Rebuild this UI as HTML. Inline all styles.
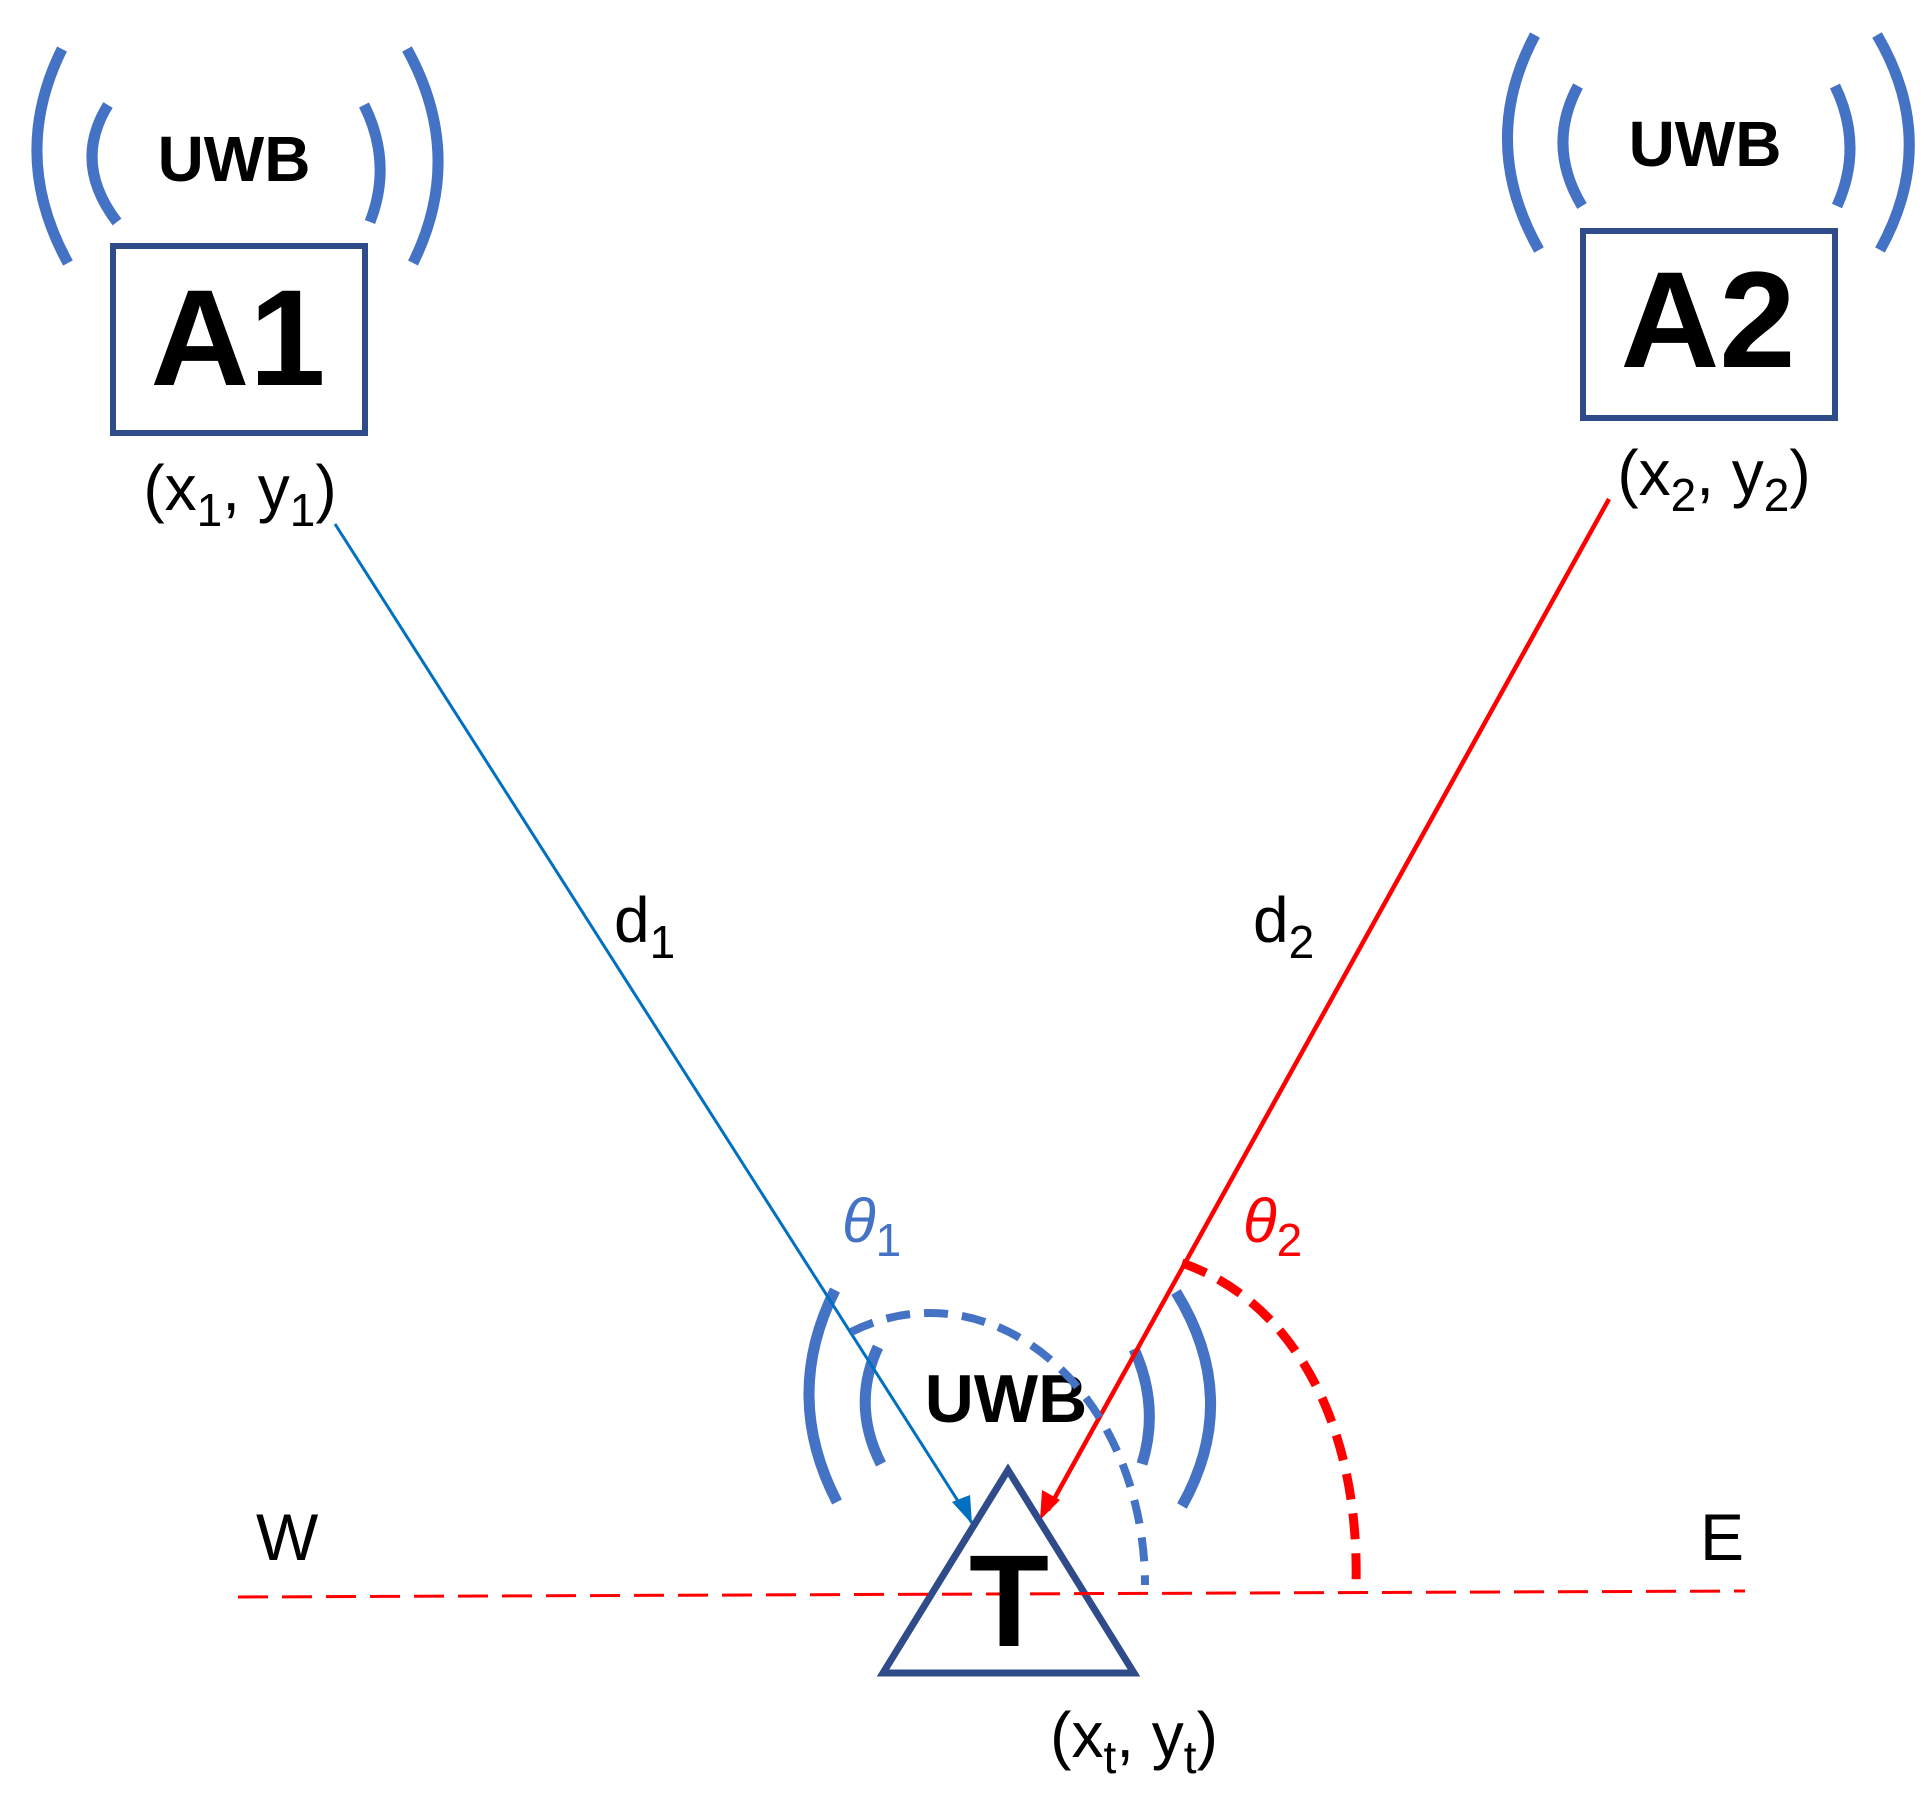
<!DOCTYPE html>
<html><head><meta charset="utf-8"><style>
html,body{margin:0;padding:0;background:#fff;}
svg{display:block;}
text{font-family:"Liberation Sans",sans-serif;}
</style></head><body>
<svg width="1928" height="1804" viewBox="0 0 1928 1804" xmlns="http://www.w3.org/2000/svg">
<g fill="none" stroke="#4472C4" stroke-width="11">
<path d="M62,49 Q9,156 68,263"/>
<path d="M108,105 Q72,163 117,222"/>
<path d="M364,105 Q393,163 370,222"/>
<path d="M407,49 Q466,156 413,263"/>
<path d="M1535,35 Q1478,142 1539,250"/>
<path d="M1578,86 Q1546,146 1582,206"/>
<path d="M1835,86 Q1864,146 1837,206"/>
<path d="M1877,35 Q1940,142 1880,250"/>
<path d="M835,1290 Q782,1396 837,1502"/>
<path d="M878,1347 Q851,1405 881,1464"/>
<path d="M1134,1349 Q1160,1406 1142,1464"/>
<path d="M1176,1292 Q1242,1399 1182,1506"/>
</g>
<rect x="113" y="246" width="252" height="187" fill="none" stroke="#2F4B8A" stroke-width="6"/>
<rect x="1583" y="231" width="252" height="187" fill="none" stroke="#2F4B8A" stroke-width="6"/>
<g font-weight="bold" text-anchor="middle" fill="#000">
<text x="234" y="181" font-size="64">UWB</text>
<text x="1705" y="166" font-size="64">UWB</text>
<text x="1006" y="1422" font-size="68">UWB</text>
<text x="238" y="385" font-size="137">A1</text>
<text x="1708" y="367" font-size="137">A2</text>
</g>
<line x1="335" y1="524" x2="972" y2="1523" stroke="#0070C0" stroke-width="3" />
<path d="M972,1524 L952,1502 L970,1495 Z" fill="#0070C0"/>
<line x1="1609" y1="499" x2="1048" y2="1510" stroke="#FF0000" stroke-width="4.5"/>
<path d="M1040,1520 L1042,1490 L1060,1500 Z" fill="#FF0000"/>
<path d="M851,1332 A215,272 0 0 1 1145,1585" fill="none" stroke="#4472C4" stroke-width="8" stroke-dasharray="24,14"/>
<path d="M1182,1263 C1290,1300 1360,1420 1356,1585" fill="none" stroke="#FF0000" stroke-width="9" stroke-dasharray="26,14"/>
<path d="M1008,1470 L883,1673 L1134,1673 Z" fill="none" stroke="#2F4B8A" stroke-width="7" stroke-linejoin="miter"/>
<line x1="238" y1="1597" x2="1745" y2="1591" stroke="#FF0000" stroke-width="3" stroke-dasharray="30,14"/>
<text x="1009" y="1646" font-size="131" font-weight="bold" text-anchor="middle">T</text>
<g font-size="64" fill="#000">
<text x="240" y="510" text-anchor="middle">(x<tspan font-size="46" dy="16">1</tspan><tspan dy="-16">, y</tspan><tspan font-size="46" dy="16">1</tspan><tspan dy="-16">)</tspan></text>
<text x="1714" y="495" text-anchor="middle">(x<tspan font-size="46" dy="16">2</tspan><tspan dy="-16">, y</tspan><tspan font-size="46" dy="16">2</tspan><tspan dy="-16">)</tspan></text>
<text x="1134" y="1757" text-anchor="middle">(x<tspan font-size="46" dy="16">t</tspan><tspan dy="-16">, y</tspan><tspan font-size="46" dy="16">t</tspan><tspan dy="-16">)</tspan></text>
<text x="614" y="942">d<tspan font-size="46" dy="16">1</tspan></text>
<text x="1253" y="942">d<tspan font-size="46" dy="16">2</tspan></text>
<text x="256" y="1560" font-size="66">W</text>
<text x="1700" y="1560" font-size="66">E</text>
</g>
<text x="842" y="1242" font-size="62" font-style="italic" fill="#4472C4" font-family="Liberation Serif, serif">θ<tspan font-size="46" font-style="normal" font-family="Liberation Sans, sans-serif" dy="14">1</tspan></text>
<text x="1243" y="1242" font-size="62" font-style="italic" fill="#FF0000" font-family="Liberation Serif, serif">θ<tspan font-size="46" font-style="normal" font-family="Liberation Sans, sans-serif" dy="14">2</tspan></text>
</svg>
</body></html>
